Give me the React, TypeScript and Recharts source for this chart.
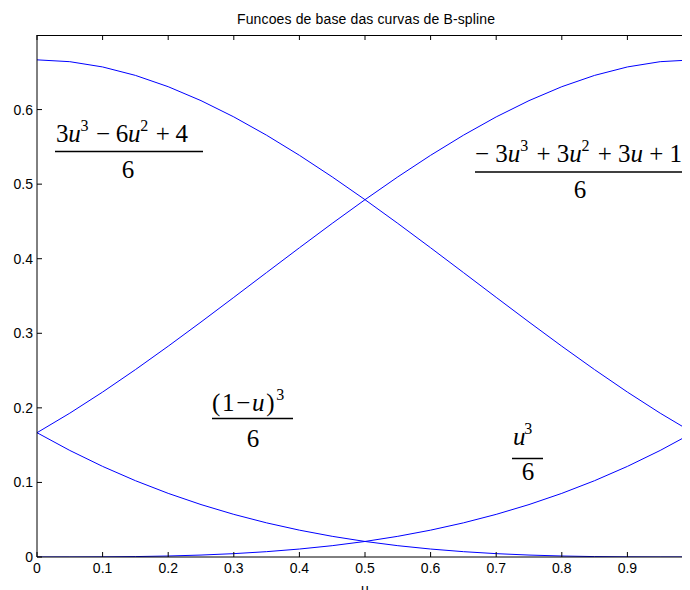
import React from "react";
import { LineChart, Line, XAxis, YAxis } from "recharts";

// Parameter u sampled on [0, 1]
const uValues = [
  0, 0.05, 0.1, 0.15, 0.2, 0.25, 0.3, 0.35, 0.4, 0.45, 0.5,
  0.55, 0.6, 0.65, 0.7, 0.75, 0.8, 0.85, 0.9, 0.95, 1,
];

// (1-u)^3 / 6
const basis0 = [
  0.166667, 0.142896, 0.1215, 0.102354, 0.085333, 0.070313, 0.057167,
  0.045771, 0.036, 0.027729, 0.020833, 0.015188, 0.010667, 0.007146,
  0.0045, 0.002604, 0.001333, 0.000563, 0.000167, 0.000021, 0,
];

// (3u^3 - 6u^2 + 4) / 6
const basis1 = [
  0.666667, 0.664229, 0.657167, 0.645854, 0.630667, 0.611979, 0.590167,
  0.565604, 0.538667, 0.509729, 0.479167, 0.447354, 0.414667, 0.381479,
  0.348167, 0.315104, 0.282667, 0.251229, 0.221167, 0.192854, 0.166667,
];

// (-3u^3 + 3u^2 + 3u + 1) / 6
const basis2 = [
  0.166667, 0.192854, 0.221167, 0.251229, 0.282667, 0.315104, 0.348167,
  0.381479, 0.414667, 0.447354, 0.479167, 0.509729, 0.538667, 0.565604,
  0.590167, 0.611979, 0.630667, 0.645854, 0.657167, 0.664229, 0.666667,
];

// u^3 / 6
const basis3 = [
  0, 0.000021, 0.000167, 0.000563, 0.001333, 0.002604, 0.0045, 0.007146,
  0.010667, 0.015188, 0.020833, 0.027729, 0.036, 0.045771, 0.057167,
  0.070313, 0.085333, 0.102354, 0.1215, 0.142896, 0.166667,
];

const xTicks = [0, 0.1, 0.2, 0.3, 0.4, 0.5, 0.6, 0.7, 0.8, 0.9];
const yTicks = [0, 0.1, 0.2, 0.3, 0.4, 0.5, 0.6];
const xDomain = [0, 1];
const yDomain = [0, 0.7];

const titleText = "Funcoes de base das curvas de B-spline";
const xLabelText = "u";

const data = uValues.map((u, i) => ({
  u,
  b0: basis0[i],
  b1: basis1[i],
  b2: basis2[i],
  b3: basis3[i],
}));

// Chart canvas and the axes box inside it
const CHART_W = 700;
const CHART_H = 600;
const BOX = { left: 37, top: 35, right: 693, bottom: 557 };

const SANS = "Liberation Sans, Arial, Helvetica, sans-serif";
const SERIF = "Liberation Serif, Times New Roman, Times, serif";
const BLUE = "#0000ff";
const TICK_LEN = 5;
const TICK_FONT = 14;

const BottomTick = (props: any) => {
  const { x, y, payload } = props;
  return (
    <g>
      <line x1={x} y1={y} x2={x} y2={y - TICK_LEN} stroke="#000" />
      <text
        x={x}
        y={y + 16}
        textAnchor="middle"
        style={{ fontSize: TICK_FONT, fontFamily: SANS }}
        fill="#000"
      >
        {String(payload.value)}
      </text>
    </g>
  );
};

const LeftTick = (props: any) => {
  const { x, y, payload } = props;
  return (
    <g>
      <line x1={x} y1={y} x2={x + TICK_LEN} y2={y} stroke="#000" />
      <text
        x={x - 4}
        y={y + 5}
        textAnchor="end"
        style={{ fontSize: TICK_FONT, fontFamily: SANS }}
        fill="#000"
      >
        {String(payload.value)}
      </text>
    </g>
  );
};

// A typeset fraction: numerator row, a rule, and a centred denominator
const Fraction = (props: {
  numX: number;
  numY: number;
  numW: number;
  barX1: number;
  barX2: number;
  barY: number;
  denX: number;
  denY: number;
  size: number;
  children: React.ReactNode;
  den: string;
}) => (
  <g style={{ fontFamily: SERIF }} fill="#000">
    <text
      x={props.numX}
      y={props.numY}
      fontSize={props.size}
      textLength={props.numW}
      lengthAdjust="spacing"
    >
      {props.children}
    </text>
    <line
      x1={props.barX1}
      x2={props.barX2}
      y1={props.barY}
      y2={props.barY}
      stroke="#000"
      strokeWidth={1.5}
    />
    <text x={props.denX} y={props.denY} fontSize={props.size} textAnchor="middle">
      {props.den}
    </text>
  </g>
);

const SUP = 16;
const Sup = ({ v }: { v: string }) => (
  <>
    <tspan fontSize={SUP} dy={-11}>
      {v}
    </tspan>
    <tspan dy={11}>{"\u200a"}</tspan>
  </>
);
const U = () => <tspan fontStyle="italic">u</tspan>;

// x position of a top-edge tick, on the same linear map as the x axis
const boxX = (t: number) =>
  BOX.left + ((t - xDomain[0]) / (xDomain[1] - xDomain[0])) * (BOX.right - BOX.left);

export default function App() {
  return (
    <div
      style={{
        position: "relative",
        width: 690,
        height: 590,
        overflow: "hidden",
        marginLeft: -8,
        marginTop: -8,
        background: "#fff",
      }}
    >
      <LineChart
        width={CHART_W}
        height={CHART_H}
        data={data}
        margin={{ top: BOX.top, right: CHART_W - BOX.right, bottom: 0, left: 0 }}
      >
        <XAxis
          dataKey="u"
          type="number"
          domain={xDomain}
          ticks={xTicks}
          interval={0}
          height={CHART_H - BOX.bottom}
          tickSize={0}
          tickMargin={0}
          tickLine={false}
          axisLine={{ stroke: "#000" }}
          tick={<BottomTick />}
          allowDataOverflow
        />
        <YAxis
          type="number"
          domain={yDomain}
          ticks={yTicks}
          interval={0}
          width={BOX.left}
          tickSize={0}
          tickMargin={0}
          tickLine={false}
          axisLine={{ stroke: "#000" }}
          tick={<LeftTick />}
          allowDataOverflow
        />

        <Line type="linear" dataKey="b0" stroke={BLUE} strokeWidth={1} dot={false} isAnimationActive={false} />
        <Line type="linear" dataKey="b1" stroke={BLUE} strokeWidth={1} dot={false} isAnimationActive={false} />
        <Line type="linear" dataKey="b2" stroke={BLUE} strokeWidth={1} dot={false} isAnimationActive={false} />
        <Line type="linear" dataKey="b3" stroke={BLUE} strokeWidth={1} dot={false} isAnimationActive={false} />
      </LineChart>

      {/* upper edge of the axes box as a plain rule */}
      <div
        style={{
          position: "absolute",
          left: BOX.left,
          top: BOX.top,
          width: BOX.right - BOX.left,
          height: 0,
          borderTop: "1px solid #000",
        }}
      />

      <svg
        width={690}
        height={590}
        style={{ position: "absolute", left: 0, top: 0, pointerEvents: "none" }}
      >
        {/* right edge of the axes box and inward ticks along the top */}
        <line x1={BOX.right - 0.5} x2={BOX.right - 0.5} y1={BOX.top} y2={BOX.bottom} stroke="#000" />
        {xTicks.map((t) => (
          <line
            key={`tt-${t}`}
            x1={boxX(t)}
            x2={boxX(t)}
            y1={BOX.top}
            y2={BOX.top + TICK_LEN}
            stroke="#000"
          />
        ))}

        <text
          x={366}
          y={24}
          textAnchor="middle"
          style={{ fontSize: 14, fontFamily: SANS }}
          textLength={258}
          lengthAdjust="spacing"
          fill="#000"
        >
          {titleText}
        </text>
        <text x={365} y={594} textAnchor="middle" style={{ fontSize: 14, fontFamily: SANS }} fill="#000">
          {xLabelText}
        </text>

        <Fraction numX={56} numY={142} numW={132} barX1={55} barX2={203} barY={151.5} denX={128} denY={178} size={25} den="6">
          3<U />
          <Sup v="3" />
          {" \u2212 6"}
          <U />
          <Sup v="2" />
          {" + 4"}
        </Fraction>

        <Fraction numX={475} numY={162} numW={207} barX1={475} barX2={683} barY={172} denX={580} denY={198} size={25} den="6">
          {"\u2212 3"}
          <U />
          <Sup v="3" />
          {" + 3"}
          <U />
          <Sup v="2" />
          {" + 3"}
          <U />
          {" + 1"}
        </Fraction>

        <Fraction numX={212} numY={411} numW={76} barX1={212} barX2={293} barY={418.5} denX={253} denY={447} size={25} den="6">
          {"(1\u2212"}
          <U />
          {")"}
          <Sup v="3" />
        </Fraction>

        <Fraction numX={513} numY={445} numW={20} barX1={512} barX2={543} barY={458.5} denX={528} denY={480} size={25} den="6">
          <U />
          <Sup v="3" />
        </Fraction>
      </svg>
    </div>
  );
}
